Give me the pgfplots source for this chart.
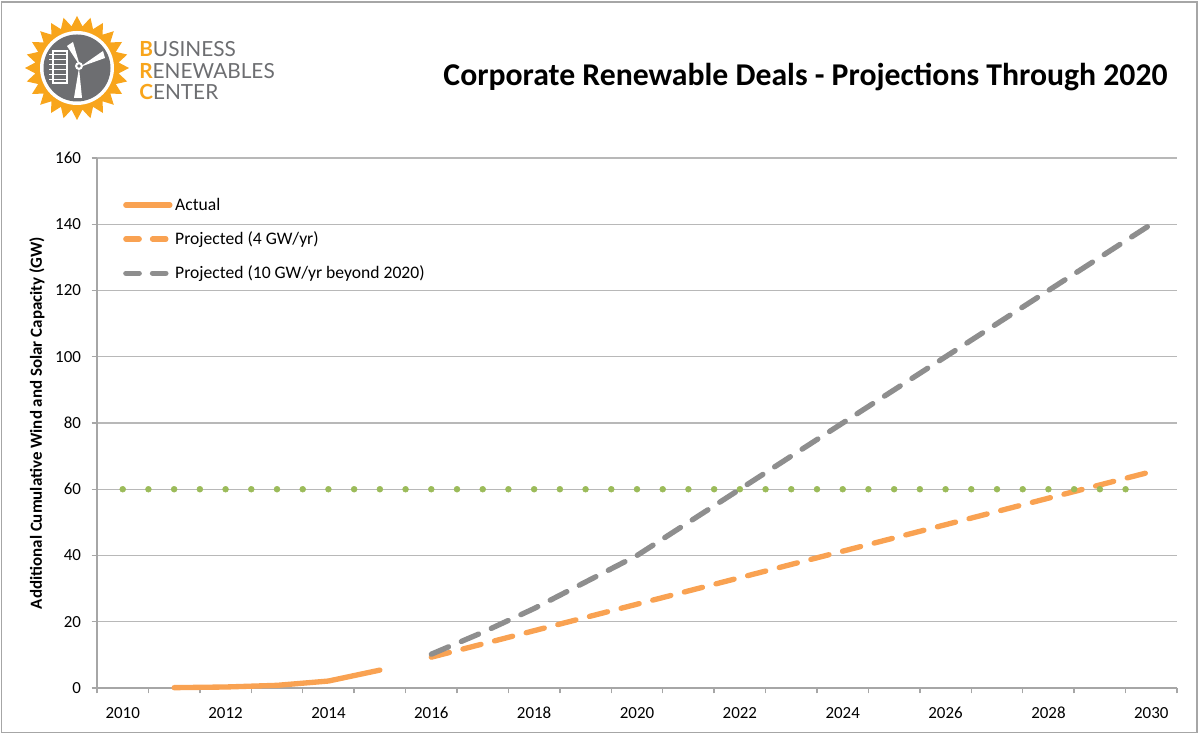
\documentclass[border=0pt]{standalone}
\usepackage{pgfplots}
\pgfplotsset{compat=1.18}
\usepackage{fontspec}
\setmainfont{Carlito}
\newfontfamily\logofont{Lato}
\definecolor{orangeL}{HTML}{F9A252}
\definecolor{grayL}{HTML}{8E8E8E}
\definecolor{greenL}{HTML}{9BBB59}
\definecolor{gridgray}{HTML}{B8B8B8}
\definecolor{axisgray}{HTML}{A6A6A6}
\definecolor{sunorange}{HTML}{F8A51C}
\definecolor{logogray}{HTML}{6D6E71}
\pgfplotsset{
  solidleg/.style={legend image code/.code={\draw[##1] (0pt,0pt) -- (33pt,0pt);}},
  dashleg/.style={legend image code/.code={\draw[##1, dash pattern=on 10pt off 10pt] (0pt,0pt) -- (30pt,0pt);}},
}
\begin{document}
\begin{tikzpicture}
% frame and page size (1px = 0.75pt)
\begin{scope}[x=0.75pt,y=0.75pt]
\useasboundingbox (0,0) rectangle (1200,734);
\draw[axisgray, line width=1.2pt] (1.5,1.5) rectangle (1197,732);
% logo
\begin{scope}[shift={(77,666)}]
\fill[sunorange] (0:52) \foreach \i in {1,...,47} { -- ({\i*7.5}:{ifthenelse(mod(\i,2)==0,52,42)}) } -- cycle;
\fill[white] (0,0) circle (37);
\fill[logogray] (0,0) circle (33.5);
% panel
\draw[white, line width=1.2pt] (-24,-15) rectangle (-10,17);
\foreach \yy in {-11,-6,...,14} {\draw[white, line width=0.6pt] (-28,\yy) -- (-10,\yy);}
% turbine
\fill[white] (2,0) -- (-3,-30) -- (5,-30) -- cycle;
\fill[white] (3,2) -- (-10,22) -- (-4,26) -- cycle;
\fill[white] (3,1) -- (28,10) -- (26,17) -- cycle;
\fill[white] (2,2) circle (4);
\fill[logogray] (2,2) circle (1.8);
\end{scope}
\node[anchor=base west, inner sep=0pt, font=\logofont\fontsize{15.6}{18}\selectfont, text=logogray] at (139,677) {\textcolor{sunorange}{\bfseries B}USINESS};
\node[anchor=base west, inner sep=0pt, font=\logofont\fontsize{15.6}{18}\selectfont, text=logogray] at (139,655) {\textcolor{sunorange}{\bfseries R}ENEWABLES};
\node[anchor=base west, inner sep=0pt, font=\logofont\fontsize{15.6}{18}\selectfont, text=logogray] at (139,634) {\textcolor{sunorange}{\bfseries C}ENTER};
% title
\node[anchor=east, inner sep=0pt, font=\bfseries\fontsize{23.8}{28}\selectfont] at (1168,657) {Corporate Renewable Deals - Projections Through 2020};
\end{scope}
\begin{axis}[
  at={(72.75pt,34.5pt)}, anchor=south west,
  scale only axis, width=810pt, height=397.5pt,
  xmin=2009.5, xmax=2030.5, ymin=0, ymax=160,
  axis lines=left, axis line style={draw=axisgray, line width=1pt, -},
  xtick={2010,2012,...,2030},
  minor xtick={2009.5,2010.5,...,2030.5},
  ytick={0,20,...,160},
  major x tick style={draw=none},
  minor x tick style={draw=axisgray, line width=1pt},
  major y tick style={draw=axisgray, line width=1pt},
  tick align=outside, major tick length=4pt, minor tick length=4pt,
  ymajorgrids, grid style={draw=gridgray, line width=1pt},
  /pgf/number format/assume math mode=true,
  xticklabel={\pgfmathprintnumber[1000 sep={}]{\tick}},
  tick label style={font=\fontsize{12.7}{15}\selectfont},
  xticklabel style={yshift=-6.75pt},
  yticklabel style={xshift=-4.5pt},
  ylabel={Additional Cumulative Wind and Solar Capacity (GW)},
  every axis y label/.style={at={(rel axis cs:0,0.5)}, xshift=-45pt, rotate=90, anchor=center, font=\bfseries\fontsize{12.7}{15}\selectfont},
  legend style={at={(rel axis cs:0.024,0.93)}, anchor=north west, draw=none, fill=none, font=\fontsize{13.2}{16}\selectfont, row sep=10.5pt, inner sep=0pt},
  legend cell align=left,
  clip=false,
]
\addplot[orangeL, line width=4pt, line cap=round, line join=round, solidleg] coordinates {
(2011,0.1) (2012,0.3) (2013,0.8) (2014,2.1) (2015,5.4)};
\addlegendentry{Actual}
\addplot[orangeL, line width=4pt, line cap=round, dash pattern=on 14pt off 10.5pt, dashleg] coordinates {
(2016,9.3) (2017,13.3) (2018,17.3) (2019,21.3) (2020,25.3) (2021,29.3) (2022,33.3) (2023,37.3) (2024,41.3) (2025,45.3) (2026,49.3) (2027,53.3) (2028,57.3) (2029,61.3) (2030,65.3)};
\addlegendentry{Projected (4 GW/yr)}
\addplot[grayL, line width=4pt, line cap=round, dash pattern=on 14pt off 10.5pt, dashleg] coordinates {
(2016,10.2) (2017,16.8) (2018,24) (2019,32) (2020,40) (2021,50) (2022,60) (2023,70) (2024,80) (2025,90) (2026,100) (2027,110) (2028,120) (2029,130) (2030,140)};
\addlegendentry{Projected (10 GW/yr beyond 2020)}
\addplot[only marks, mark=*, mark size=2.2pt, mark options={draw=greenL, fill=greenL}, forget plot] coordinates {
(2010,60) (2010.5,60) (2011,60) (2011.5,60) (2012,60) (2012.5,60) (2013,60) (2013.5,60) (2014,60) (2014.5,60)
(2015,60) (2015.5,60) (2016,60) (2016.5,60) (2017,60) (2017.5,60) (2018,60) (2018.5,60) (2019,60) (2019.5,60)
(2020,60) (2020.5,60) (2021,60) (2021.5,60) (2022,60) (2022.5,60) (2023,60) (2023.5,60) (2024,60) (2024.5,60)
(2025,60) (2025.5,60) (2026,60) (2026.5,60) (2027,60) (2027.5,60) (2028,60) (2028.5,60) (2029,60) (2029.5,60)};
\end{axis}
\end{tikzpicture}
\end{document}
